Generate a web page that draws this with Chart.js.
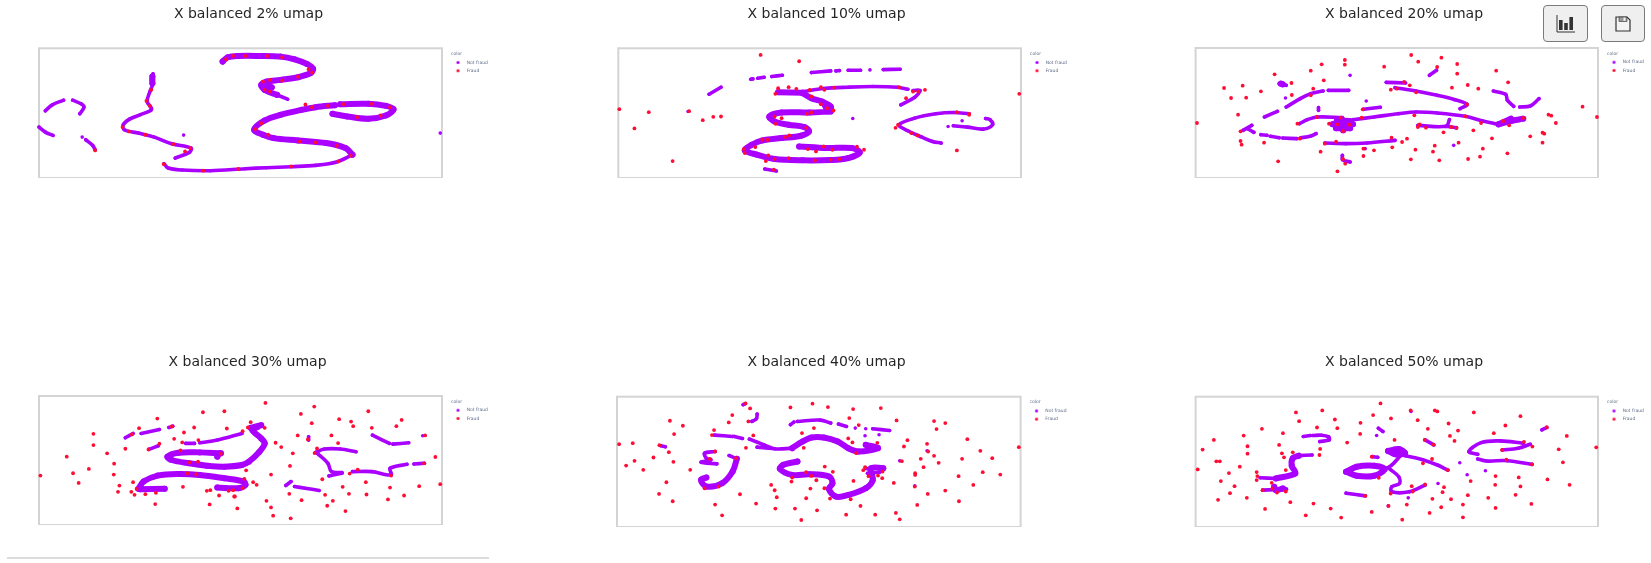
<!DOCTYPE html>
<html><head><meta charset="utf-8">
<script src="https://cdn.jsdelivr.net/npm/chart.js@4/dist/chart.umd.min.js"></script>
<style>
html,body{margin:0;padding:0;background:#fff;overflow:hidden;width:1651px;height:563px}
.pane{position:absolute;filter:blur(0.55px)}
.btn{position:absolute;top:5px;height:37px;box-sizing:border-box;background:#efefef;border:1px solid #7a7a7a;border-radius:4px;display:flex;align-items:center;justify-content:center;filter:blur(0.3px)}
#sep{position:absolute;left:7px;top:557px;width:482px;height:2px;background:#dcdcdc}
</style></head><body>
<div class="btn" style="left:1543px;width:45px"><svg width="20" height="20" viewBox="0 0 20 20"><rect x="3" y="6" width="3.6" height="10" fill="#333"/><rect x="8.2" y="9" width="3.6" height="7" fill="#333"/><rect x="13.4" y="3" width="3.6" height="13" fill="#333"/><path d="M1 1V18H19" fill="none" stroke="#333" stroke-width="1"/></svg></div>
<div class="btn" style="left:1601px;width:44px"><svg width="18" height="18" viewBox="0 0 18 18"><path d="M2 2H13L16 5V16H2Z" fill="#f4f4f4" stroke="#333" stroke-width="1.2"/><rect x="5" y="2" width="8" height="4.5" fill="#999" stroke="#333" stroke-width=".6"/><rect x="9.5" y="2.6" width="2" height="3.2" fill="#f4f4f4"/></svg></div>
<div id="sep"></div>
<script>
const seriesNames = ["Not fraud", "Fraud"];
const legendTitle = "color";
const titles = ["X balanced 2% umap","X balanced 10% umap","X balanced 20% umap","X balanced 30% umap","X balanced 40% umap","X balanced 50% umap"];

// Read-off extents of each panel frame
const xExtents = [[112,1260],[194,1343],[272,1418],[112,1260],[190,1342],[271,1418]];
const yExtents = [[145,535],[145,535],[143,533],[152,541],[156,546],[156,545]];

// 2%
const notFraudThin2 = [[130,333],[150,315],[182,301],null,[208,301],[232,312],[240,322],[228,342],null,[112,382],[130,397],[152,407],null,[235,412],null,[245,420],[265,437],[272,450],null,[524,406],null,[1255,400],null,[790,285],[820,298],null,[437,222],[432,240],[435,255],[428,275],[420,305],[432,325],[430,332],[400,345],[370,358],[352,375],[355,390],[395,400],[440,412],[490,432],[545,445],[540,458],[500,475],null,[468,492],[480,505],[520,511],[600,513],[700,507],[760,504],[830,501],[900,497],[960,487],[1005,465]];
const notFraudDense2 = [[635,185],[650,172],[680,168],[740,168],[800,170],[840,178],[875,192],[893,207],[885,220],[850,232],[800,240],[760,245],[745,255],[755,270],[790,285],null,[1005,465],[985,445],[930,430],[850,422],[780,415],[750,405],[725,390],[755,362],[800,345],[860,330],[900,322],[955,316],null,[970,313],[1050,312],[1100,318],[1122,328],[1100,347],[1050,357],[990,350],[948,342],null,[435,230],[435,250],null,[750,255],[775,262],[755,270]];
const fraud2 = [[871,314],[645,178],[665,168],[700,168],[762,168],[805,172],[880,208],[890,218],[850,230],[805,242],[770,240],[750,245],[755,270],[770,275],[432,270],[418,303],[428,318],[350,382],[368,395],[415,405],[495,433],[543,445],[528,455],[467,493],[580,513],[680,508],[830,500],[965,485],[1000,468],[960,438],[900,428],[855,425],[765,405],[745,370],[728,388],[890,322],[935,318],[980,313],[1060,312],[1112,322],[1085,347],[1018,352],[272,452]];

// 10%
const notFraudThin10 = [[453,283],[487,262],null,[572,238],[578,237],null,[592,235],[610,232],null,[632,230],[662,226],null,[745,218],[800,213],null,[815,213],[825,212],null,[850,211],[885,211],null,[912,210],null,[950,209],[998,208],null,[720,275],[780,266],[850,262],[920,260],[990,262],[1020,268],null,[1035,272],[1055,272],[1040,292],[1000,315],null,[612,508],[645,514],null,[1195,342],[1150,338],[1100,342],[1040,355],[995,375],[1020,393],[1060,412],[1090,425],[1115,430],null,[1135,380],null,[1150,378],[1190,382],[1235,388],[1262,375],[1255,360],[1242,356],null,[393,335],null,[863,356],null,[1175,363]];
const notFraudDense10 = [[650,277],[720,279],null,[720,280],[745,295],[775,305],[800,320],[800,332],null,[780,310],[790,330],null,[800,335],[740,338],[660,338],[625,350],[640,365],[680,375],[725,382],[738,395],[715,408],[660,415],[605,422],[575,435],[555,452],[590,465],[640,478],[720,482],[800,481],[850,475],[883,458],[860,445],[790,445],[710,440]];
const fraud10 = [[600,165],[710,184],[1338,282],[197,328],[281,337],[396,334],[240,386],[435,361],[465,351],[487,350],[349,484],[1160,452],[1069,270],[1050,275],[1035,275],[1015,295],[995,262],[650,265],[680,262],[642,282],[702,267],[740,270],[772,262],[810,263],[782,270],[745,290],[772,313],[790,325],[808,332],[745,338],[732,342],[640,350],[660,355],[643,372],[730,384],[682,407],[670,412],[605,420],[620,420],[552,448],[555,460],[585,442],[615,484],[640,478],[680,475],[755,482],[800,480],[825,478],[622,467],[735,448],[758,455],[780,440],[805,450],[875,441],[895,450],[1160,337],[1195,342],[992,375],[985,384],[1030,400],[1048,407],[638,510],[1195,345]];

// 20%
const notFraudThin20 = [[458,403],[475,405],null,[485,408],[510,412],null,[520,413],[560,415],null,[570,413],[600,407],[615,400],null,[468,350],[505,333],null,[530,320],[570,295],[600,280],[635,272],null,[650,270],[708,270],null,[510,250],[530,255],null,[528,293],null,[622,322],[622,330],null,[712,225],null,[758,302],null,[750,327],[798,321],null,[568,370],[590,358],[620,350],[690,352],null,[720,358],[780,350],[850,340],[900,335],[960,338],[1040,348],[1090,362],[1135,372],null,[815,246],[870,248],null,[840,262],[900,272],[960,285],[1010,298],[1045,312],[1025,325],null,[905,375],[985,378],[995,358],null,[985,378],[1015,382],null,[640,428],[700,430],[760,428],[840,420],null,[690,465],[690,478],[712,485],null,[938,225],[958,210],null,[1120,272],[1155,282],[1160,300],[1178,318],null,[1195,320],[1225,317],[1250,295],null,[755,445],null,[1007,435],null,[407,390],[432,375],null,[420,385],[438,396]];
const notFraudDense20 = [[662,372],[720,372],null,[674,362],[710,362],null,[672,384],[712,384],null,[690,358],[692,390],null,[1135,372],[1170,362],[1205,355],null,[1135,372],[1170,355],null,[520,252],[515,250]];
const fraud20 = [[886,164],[972,172],[906,184],[1017,191],[697,179],[697,193],[631,192],[809,199],[960,200],[600,211],[497,222],[1017,220],[1128,211],[637,240],[1162,246],[353,263],[406,256],[458,273],[545,248],[546,284],[373,293],[416,292],[607,265],[600,285],[1002,262],[1047,254],[1077,265],[828,268],[845,265],[866,245],[882,255],[900,276],[1045,312],[393,343],[276,368],[1374,319],[1415,350],[1277,343],[1285,346],[1298,368],[1260,397],[1265,400],[1225,408],[1260,427],[1205,353],[1165,375],[1148,362],[1085,368],[1063,390],[1116,414],[1090,445],[1160,459],[1082,469],[1048,476],[966,480],[885,477],[948,454],[953,436],[1021,427],[898,448],[874,415],[860,425],[832,441],[780,450],[750,445],[750,467],[628,454],[507,483],[676,513],[698,490],[692,476],[400,422],[403,433],[467,427],[400,393],[569,415],[640,430],[672,424],[830,412],[562,370],[652,370],[676,372],[710,373],[685,352],[617,350],[692,392],[748,327],[745,352],[895,345],[1040,348],[910,372],[905,380],[928,382],[978,396],[1000,380],[1015,383]];

// 30%
const notFraudThin30 = [[358,278],[380,265],null,[403,265],[455,253],null,[482,247],[493,243],null,[425,313],[452,302],null,[530,295],[555,295],null,[570,293],[620,285],[690,265],null,[815,422],[830,410],null,[840,425],[870,430],[910,437],null,[938,393],[975,385],null,[1005,380],[1060,380],[1115,390],[1112,370],[1160,358],null,[1180,357],[1210,355],null,[1062,270],[1110,295],null,[1120,297],[1165,293],null,[1205,272],null,[880,275],[880,285],null,[905,325],[935,355],[945,380],[975,383],null,[900,322],[925,312],[970,312],[1015,320]];
const notFraudDense30 = [[745,240],[715,248],null,[735,245],[720,255],[745,280],[755,295],[740,320],[710,350],[690,360],[640,365],[590,362],[540,355],[490,345],[478,335],[510,323],[570,322],[630,325],null,[620,335],[625,325],null,[400,433],[470,432],null,[395,432],[410,410],[450,392],[510,387],[570,390],[640,400],[695,410],[700,420],[680,430],[620,428]];
const fraud30 = [[757,173],[896,184],[858,206],[1050,198],[967,222],[1001,229],[1145,224],[579,201],[640,198],[449,220],[889,234],[715,231],[707,247],[755,248],[647,250],[554,247],[490,244],[397,249],[525,262],[267,266],[267,300],[358,311],[377,268],[497,281],[455,296],[424,313],[520,292],[566,285],[692,258],[849,271],[945,271],[878,283],[1007,243],[1060,248],[1130,243],[1212,271],[964,294],[786,293],[802,306],[835,325],[904,310],[897,324],[306,325],[191,335],[326,356],[325,389],[254,372],[209,385],[116,392],[225,414],[341,422],[337,441],[380,412],[375,441],[384,450],[390,432],[415,448],[445,444],[443,478],[522,426],[590,438],[600,436],[625,452],[652,438],[668,455],[665,436],[692,430],[697,402],[722,412],[732,420],[702,376],[773,389],[827,363],[825,447],[860,466],[760,468],[773,488],[779,513],[829,521],[927,450],[949,468],[933,483],[985,499],[977,426],[995,447],[919,403],[1043,412],[1045,449],[1112,428],[1106,464],[1152,452],[1195,424],[1255,418],[1241,336],[1209,355],[1115,392],[997,386],[1020,374],[598,479],[677,491],[630,326],[515,316],[541,352],[565,350],[535,385],[560,388],[670,455]];

// 40%
const notFraudThin40 = [[550,180],[556,177],null,[590,208],[588,222],[575,230],null,[685,240],[695,232],null,[705,230],[770,226],[800,235],null,[822,238],[845,245],null,[870,250],null,[900,252],null,[920,252],[968,257],null,[898,273],null,[938,270],null,[468,271],[520,275],null,[525,275],[548,281],null,[568,283],[610,300],[640,312],[690,310],null,[590,307],[640,312],null,[315,303],[328,306],null,[470,320],[440,325],[445,340],[458,345],[430,352],[475,357],null,[510,332],[532,342],null,[997,348],null,[1040,423],null,[1075,318],null,[905,385],[940,382],null,[900,370],[915,375]];
const notFraudDense40 = [[690,310],[720,290],[745,278],[780,278],[820,290],[850,310],[880,320],[935,310],[900,300],null,[532,342],[520,380],[490,415],[445,425],[430,405],[445,398],null,[705,350],[665,360],[655,372],[690,390],[740,388],[795,395],[805,415],[795,432],[815,455],[850,450],[900,430],[920,405],[915,370],[950,370]];
const fraud40 = [[557,176],[570,191],[519,211],[509,233],[565,230],[341,228],[378,243],[467,256],[353,268],[461,271],[579,272],[718,265],[752,250],[685,188],[748,177],[792,187],[864,193],[943,190],[853,220],[880,241],[988,227],[1095,229],[1127,235],[1102,253],[1019,286],[1009,305],[1075,297],[1190,283],[1227,318],[1261,340],[1175,342],[1234,382],[1284,389],[1165,394],[1207,420],[1127,437],[1166,469],[1337,307],[196,298],[235,295],[311,301],[338,322],[294,338],[240,348],[216,362],[351,351],[265,375],[399,375],[331,412],[310,447],[349,469],[470,479],[490,511],[541,448],[587,476],[642,491],[698,491],[716,525],[761,496],[844,509],[927,509],[986,504],[997,523],[1047,480],[1077,447],[1040,425],[885,483],[857,463],[798,461],[730,460],[646,457],[640,436],[630,420],[742,431],[782,430],[759,406],[690,398],[688,410],[745,393],[730,382],[783,365],[806,381],[865,408],[898,367],[893,376],[908,394],[935,392],[947,400],[948,380],[980,414],[1041,390],[1041,385],[1065,367],[1057,342],[1108,354],[1095,333],[1078,320],[1003,349],[933,294],[850,281],[862,293],[873,325],[723,309],[558,309],[455,342],[470,320],[530,340],[440,430],[480,425]];

// 50%
const notFraudThin50 = [[578,275],[598,272],null,[605,272],[630,271],[650,276],[652,285],[625,290],null,[792,250],[805,260],null,[787,272],null,[925,285],[950,300],null,[1258,255],[1272,248],null,[855,332],[830,360],[800,378],null,[825,372],[850,395],[852,415],[830,425],[830,440],[880,440],[925,420],null,[868,332],[920,345],[960,360],[990,375],null,[700,444],[755,452],null,[1205,295],[1140,288],[1085,293],[1050,320],[1075,328],null,[1145,315],[1190,310],[1225,298],null,[1075,342],[1100,348],[1160,347],[1230,358],null,[775,335],[790,337],null,[885,200],null,[1024,353],null,[1045,389],null,[1097,377],null,[962,415],null,[877,458],null,[820,482],null,[455,398],[500,400],null,[565,332],[603,330],null,[462,435],[530,432]];
const notFraudDense50 = [[500,400],[555,385],[545,362],[548,340],[565,332],null,[495,425],[500,435],[520,430],null,[700,380],[730,365],[780,362],[810,372],[780,392],[730,392],[700,380],null,[820,318],[850,312],[868,325],[840,328],[820,318]];
const fraud50 = [[798,176],[884,197],[953,197],[960,200],[1064,203],[1197,214],[632,197],[557,203],[566,229],[668,224],[741,234],[777,211],[828,221],[904,226],[992,236],[1154,242],[1272,247],[1329,273],[460,252],[408,272],[323,285],[520,265],[617,248],[675,250],[740,267],[933,252],[1019,257],[996,273],[1009,288],[1121,265],[838,285],[924,285],[949,299],[703,293],[419,304],[291,314],[419,326],[509,300],[626,312],[624,330],[517,325],[548,322],[523,337],[330,349],[340,349],[397,365],[277,373],[366,384],[445,381],[447,393],[445,405],[343,408],[382,423],[369,444],[335,464],[417,458],[469,491],[541,471],[607,475],[585,510],[656,490],[686,517],[773,335],[773,500],[860,523],[938,503],[1033,516],[1126,488],[1228,476],[1183,449],[1197,424],[1192,397],[1126,393],[1125,419],[1055,408],[1047,450],[1105,458],[1033,478],[999,462],[971,486],[946,461],[979,426],[975,441],[925,418],[887,423],[890,439],[873,478],[821,482],[1274,403],[1337,419],[1318,352],[1306,313],[1413,307],[1231,305],[1230,358],[1157,344],[1207,291],[1145,315],[990,375],[945,342],[919,355],[793,398],[755,452],[827,445],[462,435],[503,442],[528,439],[490,430],[528,375],[488,413]];

const thinSets  = [notFraudThin2, notFraudThin10, notFraudThin20, notFraudThin30, notFraudThin40, notFraudThin50];
const denseSets = [notFraudDense2, notFraudDense10, notFraudDense20, notFraudDense30, notFraudDense40, notFraudDense50];
const fraudSets = [fraud2, fraud10, fraud20, fraud30, fraud40, fraud50];

// Page placement: canvas box, frame box
const PURPLE = '#a900ff', RED = '#ff0d35';
const boxes = [
 {cl:0,   cw:497, ct:0,   ch:178, fl:39,    fr:442,    ft:48.3},
 {cl:577, cw:499, ct:0,   ch:178, fl:618.3, fr:1021,   ft:48.3},
 {cl:1157,cw:494, ct:0,   ch:178, fl:1195.6,fr:1598,   ft:48},
 {cl:0,   cw:495, ct:348, ch:177, fl:39,    fr:442,    ft:396},
 {cl:577, cw:499, ct:348, ch:179, fl:617,   fr:1020.6, ft:396.7},
 {cl:1157,cw:494, ct:348, ch:179, fl:1195.6,fr:1598,   ft:396.7}
];
const toPts = a => a.map(p => p ? {x:p[0],y:p[1]} : {x:null,y:null});
function dot(color){const c=document.createElement('canvas');c.width=10;c.height=5;const g=c.getContext('2d');g.fillStyle=color;g.beginPath();g.arc(3.4,2.5,1.6,0,Math.PI*2);g.fill();return c;}
const dots=[dot(PURPLE),dot(RED)];

const framePlugin = {
  id:'frame',
  afterLayout(chart){
    const a=chart.chartArea,l=chart.legend,t=chart.titleBlock;
    if(l){const w=l.width,h=l.height;l.left=a.right+9;l.right=l.left+w;l.top=a.top+1.3;l.bottom=l.top+h;}
    if(t){t.left=0;t.right=chart.width;t.width=chart.width;}
  },
  beforeDatasetsDraw(chart){
    const a=chart.chartArea,c=chart.ctx;c.save();c.strokeStyle='#d4d4d4';c.lineWidth=2;
    c.strokeRect(a.left,a.top,a.right-a.left,a.bottom-a.top);c.restore();
  }
};

boxes.forEach((b,i)=>{
  const cv=document.createElement('canvas');
  cv.className='pane';
  cv.style.cssText=`left:${b.cl}px;top:${b.ct}px;width:${b.cw}px;height:${b.ch}px`;
  cv.width=b.cw;cv.height=b.ch;
  document.body.appendChild(cv);
  const common={showLine:true,spanGaps:false,clip:false,borderCapStyle:'round',borderJoinStyle:'round',tension:0.35};
  new Chart(cv,{
    type:'scatter',
    data:{datasets:[
      Object.assign({},common,{label:seriesNames[0],data:toPts(thinSets[i]),borderColor:PURPLE,backgroundColor:PURPLE,borderWidth:3.6,pointRadius:1.8,pointBorderWidth:0,order:2}),
      {label:seriesNames[1],data:toPts(fraudSets[i]),showLine:false,clip:false,backgroundColor:RED,borderColor:RED,pointRadius:1.9,pointBorderWidth:0,order:0},
      Object.assign({},common,{label:seriesNames[0]+' dense',data:toPts(denseSets[i]),borderColor:PURPLE,backgroundColor:PURPLE,borderWidth:6,pointRadius:3,pointBorderWidth:0,order:1})
    ]},
    options:{
      responsive:false,maintainAspectRatio:false,animation:false,devicePixelRatio:1,
      layout:{autoPadding:false,padding:{left:b.fl-b.cl,right:b.cl+b.cw-b.fr,top:0,bottom:0}},
      scales:{
        x:{type:'linear',display:false,min:xExtents[i][0],max:xExtents[i][1]},
        y:{type:'linear',display:false,reverse:true,min:yExtents[i][0],max:yExtents[i][1]}
      },
      plugins:{
        tooltip:{enabled:false},
        title:{display:true,text:titles[i],color:'#262626',font:{family:'DejaVu Sans',size:14,weight:'normal',lineHeight:1.2},padding:{top:6,bottom:(b.ft-b.ct)-22.8}},
        legend:{
          display:true,position:'chartArea',align:'start',
          title:{display:true,text:legendTitle,color:'#5b6a86',position:'start',font:{family:'DejaVu Sans',size:4.5,lineHeight:1.1},padding:{top:2,bottom:0}},
          labels:{
            usePointStyle:true,pointStyleWidth:9.75,padding:3.7,color:'#5b6a86',
            font:{family:'DejaVu Sans',size:4.5,lineHeight:1.27},
            filter:it=>it.datasetIndex<2,
            sort:(a,b)=>a.datasetIndex-b.datasetIndex,
            generateLabels(ch){return Chart.defaults.plugins.legend.labels.generateLabels(ch).map(o=>{o.pointStyle=o.datasetIndex<2?dots[o.datasetIndex]:'circle';return o;});}
          }
        }
      }
    },
    plugins:[framePlugin]
  });
});
</script>
</body></html>
